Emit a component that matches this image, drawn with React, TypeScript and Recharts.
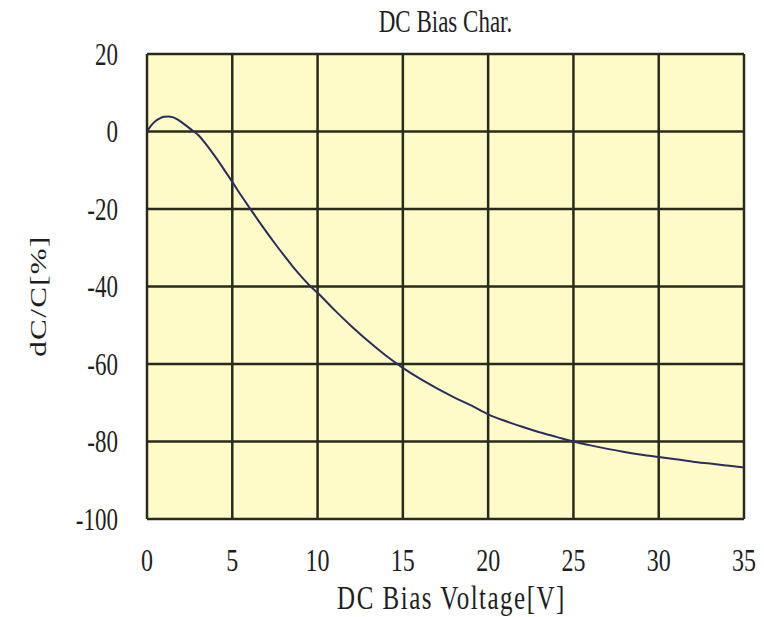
import { LineChart, Line, XAxis, YAxis, CartesianGrid, Label } from "recharts";

const volts = [
  0, 0.25, 0.5, 0.75, 1, 1.25, 1.5, 1.75, 2, 2.5, 3, 3.5, 4, 4.5, 5, 5.5, 6,
  6.5, 7, 7.5, 8, 8.5, 9, 9.5, 10, 11, 12, 13, 14, 15, 16, 17, 18, 19, 20, 21,
  22, 23, 24, 25, 26, 27, 28, 29, 30, 31, 32, 33, 34, 35,
];
const dcPct = [
  0, 1.6, 2.7, 3.4, 3.8, 3.9, 3.7, 3.2, 2.5, 0.8, -0.9, -3.5, -6.5, -9.7, -13.0,
  -16.4, -19.6, -22.8, -25.9, -28.9, -31.8, -34.6, -37.2, -39.6, -41.6, -46.1,
  -50.3, -54.2, -57.8, -61.0, -63.8, -66.3, -68.6, -70.7, -73.0, -74.7, -76.2,
  -77.6, -78.8, -80.0, -81.0, -81.9, -82.7, -83.4, -84.0, -84.6, -85.2, -85.7,
  -86.2, -86.7,
];
const xTicks = [0, 5, 10, 15, 20, 25, 30, 35];
const yTicks = [20, 0, -20, -40, -60, -80, -100];

const data = volts.map((v, i) => ({ v, pct: dcPct[i] }));

const FONT = '"Liberation Serif", "Times New Roman", serif';
const INK = "#1e1e1e";
// the source scan is stretched vertically, so text is drawn taller than wide
const STRETCH = 1.35;

function StretchText({ x, y, anchor, size, rotate, spacing, children }: any) {
  return (
    <g transform={`translate(${x},${y}) scale(1,${STRETCH})${rotate ? " rotate(-90)" : ""}`}>
      <text
        x={0}
        y={0}
        dy="0.35em"
        textAnchor={anchor}
        fontSize={size}
        fontFamily={FONT}
        fill={INK}
        letterSpacing={spacing}
      >
        {children}
      </text>
    </g>
  );
}

const XTick = ({ x, y, payload }: any) => (
  <StretchText x={x} y={y} anchor="middle" size={24}>
    {payload.value}
  </StretchText>
);

const YTick = ({ x, y, payload }: any) => (
  <StretchText x={x} y={y} anchor="end" size={23}>
    {payload.value}
  </StretchText>
);

export default function App() {
  return (
    <div style={{ position: "absolute", left: 0, top: 0, width: 764, height: 617, background: "#fff" }}>
      <div
        style={{
          position: "absolute",
          left: 147,
          top: 8,
          width: 597,
          textAlign: "center",
          fontFamily: FONT,
          fontSize: 23,
          color: INK,
          lineHeight: "30px",
          transform: `scaleY(${STRETCH})`,
        }}
      >
        DC Bias Char.
      </div>
      <LineChart
        width={764}
        height={617}
        data={data}
        margin={{ top: 54, right: 20, bottom: 0, left: 0 }}
      >
        <CartesianGrid fill="#fefbc9" stroke="#2a2a1c" strokeWidth={2.5} strokeOpacity={1} />
        <XAxis
          dataKey="v"
          type="number"
          domain={[0, 35]}
          ticks={xTicks}
          height={98}
          axisLine={false}
          tickLine={false}
          tickSize={0}
          tickMargin={41}
          tick={<XTick />}
          interval={0}
        >
          <Label
            content={({ viewBox }: any) => (
              <StretchText
                x={viewBox.x + viewBox.width / 2 + 6}
                y={597}
                anchor="middle"
                size={25}
                spacing={1.5}
              >
                DC Bias Voltage[V]
              </StretchText>
            )}
          />
        </XAxis>
        <YAxis
          type="number"
          domain={[-100, 20]}
          ticks={yTicks}
          width={147}
          axisLine={false}
          tickLine={false}
          tickSize={0}
          tickMargin={29}
          tick={<YTick />}
          interval={0}
        >
          <Label
            content={() => (
              <StretchText x={38} y={296} anchor="middle" size={23} rotate spacing={1}>
                dC/C[%]
              </StretchText>
            )}
          />
        </YAxis>
        <Line
          type="monotone"
          dataKey="pct"
          stroke="#2b2d5e"
          strokeWidth={2}
          dot={false}
          isAnimationActive={false}
        />
      </LineChart>
    </div>
  );
}
